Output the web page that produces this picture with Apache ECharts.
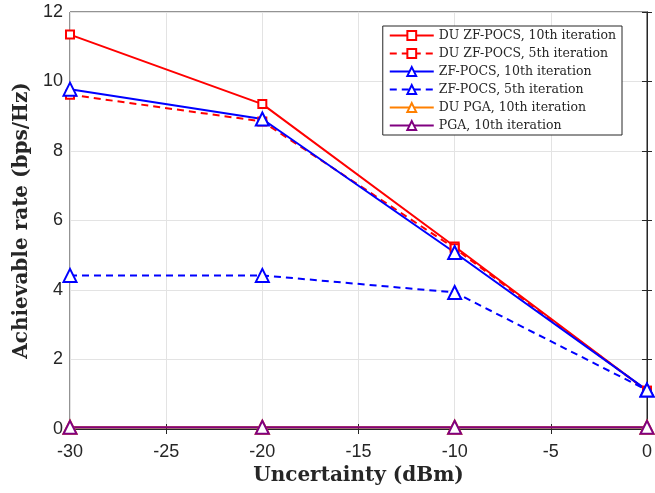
<!DOCTYPE html>
<html>
<head>
<meta charset="utf-8">
<script src="https://cdn.jsdelivr.net/npm/echarts@6/dist/echarts.min.js"></script>
<style>
  html, body { margin: 0; padding: 0; background: #fff; }
  #main { width: 655px; height: 493px; }
</style>
</head>
<body>
<div id="main"></div>
<script>
// x positions (dBm) and achievable rates
var uncertainty = [-30, -20, -10, 0];
var duZf10 = [11.35, 9.35, 5.25, 1.1];
var duZf5 = [9.62, 8.85, 5.2, 1.1];
var zf10 = [9.78, 8.92, 5.08, 1.12];
var zf5 = [4.42, 4.42, 3.93, 1.12];
var duPga10 = [0.05, 0.05, 0.05, 0.05];
var pga10 = [0.05, 0.05, 0.05, 0.05];

function pairs(ys) {
    return uncertainty.map(function (x, i) { return [x, ys[i]]; });
}

function makeSeries(name, ys, color, dashed, symbol, size) {
    return {
        name: name,
        type: 'line',
        data: pairs(ys),
        symbol: symbol,
        symbolSize: size,
        showAllSymbol: true,
        lineStyle: { color: color, width: 2, type: dashed ? [7, 5] : 'solid' },
        itemStyle: { color: color, borderColor: color, borderWidth: 2 },
        emphasis: { disabled: true },
        animation: false
    };
}

var serif = "'DejaVu Serif', 'Liberation Serif', serif";
var tickFont = { fontFamily: 'Liberation Sans, Arial, sans-serif', fontSize: 18, color: '#262626' };

var option = {
    backgroundColor: '#fff',
    animation: false,
    grid: { left: 70, right: 8, top: 12, bottom: 64, show: true, borderColor: '#262626', borderWidth: 1 },
    legend: {
        right: 33,
        top: 26,
        orient: 'vertical',
        backgroundColor: '#fff',
        borderColor: '#262626',
        borderWidth: 1,
        padding: [3, 6, 3, 6],
        itemWidth: 44,
        itemHeight: 11,
        itemGap: 5,
        textStyle: { fontFamily: serif, fontSize: 12.5, color: '#262626' },
        data: ['DU ZF-POCS, 10th iteration', 'DU ZF-POCS, 5th iteration', 'ZF-POCS, 10th iteration',
               'ZF-POCS, 5th iteration', 'DU PGA, 10th iteration', 'PGA, 10th iteration']
    },
    xAxis: [{
        type: 'value',
        min: -30, max: 0, interval: 5,
        name: 'Uncertainty (dBm)',
        nameLocation: 'middle',
        nameGap: 31,
        nameTextStyle: { fontFamily: serif, fontWeight: 'bold', fontSize: 20, color: '#262626' },
        axisLine: { show: true, lineStyle: { color: '#262626' } },
        axisTick: { inside: true, length: 5, lineStyle: { color: '#262626' } },
        axisLabel: Object.assign({ margin: 14 }, tickFont),
        splitLine: { show: true, lineStyle: { color: '#e3e3e3' } }
    }, {
        type: 'value', position: 'top',
        min: -30, max: 0, interval: 5,
        axisLine: { show: true, lineStyle: { color: '#262626' } },
        axisTick: { inside: true, length: 5, lineStyle: { color: '#262626' } },
        axisLabel: { show: false },
        splitLine: { show: false }
    }],
    yAxis: [{
        type: 'value',
        min: 0, max: 12, interval: 2,
        name: 'Achievable rate (bps/Hz)',
        nameLocation: 'middle',
        nameGap: 38,
        nameTextStyle: { fontFamily: serif, fontWeight: 'bold', fontSize: 20, color: '#262626' },
        axisLine: { show: true, lineStyle: { color: '#262626' } },
        axisTick: { inside: true, length: 5, lineStyle: { color: '#262626' } },
        axisLabel: Object.assign({ margin: 7 }, tickFont),
        splitLine: { show: true, lineStyle: { color: '#e3e3e3' } }
    }, {
        type: 'value', position: 'right',
        min: 0, max: 12, interval: 2,
        axisLine: { show: true, lineStyle: { color: '#262626' } },
        axisTick: { inside: true, length: 5, lineStyle: { color: '#262626' } },
        axisLabel: { show: false },
        splitLine: { show: false }
    }],
    series: [
        makeSeries('DU ZF-POCS, 10th iteration', duZf10, '#ff0000', false, 'emptyRect', 8),
        makeSeries('DU ZF-POCS, 5th iteration', duZf5, '#ff0000', true, 'emptyRect', 8),
        makeSeries('ZF-POCS, 10th iteration', zf10, '#0000ff', false, 'emptyTriangle', 13),
        makeSeries('ZF-POCS, 5th iteration', zf5, '#0000ff', true, 'emptyTriangle', 13),
        makeSeries('DU PGA, 10th iteration', duPga10, '#ff8000', false, 'emptyTriangle', 13),
        makeSeries('PGA, 10th iteration', pga10, '#800080', false, 'emptyTriangle', 13)
    ]
};

var chart = echarts.init(document.getElementById('main'));
chart.setOption(option);
</script>
</body>
</html>
